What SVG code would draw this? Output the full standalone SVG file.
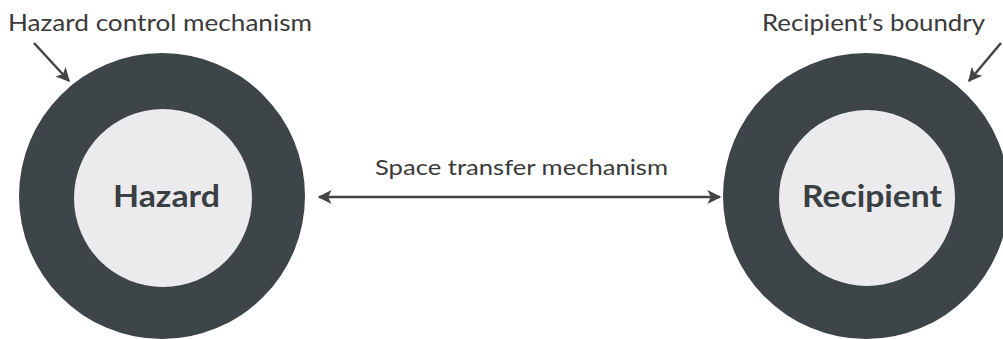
<svg xmlns="http://www.w3.org/2000/svg" width="1003" height="339" viewBox="0 0 1003 339">
<style>
.outer{fill:#3e4549}
.inner{fill:#ebebed}
.lbl{font-family:Lato,"Liberation Sans",sans-serif;fill:#3a3a3a;font-size:23px}
.node{font-family:Lato,"Liberation Sans",sans-serif;fill:#3a3f44;font-size:31px;font-weight:bold}
.conn{stroke:#444;stroke-width:2.5;fill:none}
</style>
<defs>
<marker id="ah2" viewBox="0 0 10 10" refX="9" refY="5" markerWidth="16" markerHeight="14" orient="auto-start-reverse" markerUnits="userSpaceOnUse">
<path d="M0,0 L10,5 L0,10 L2.5,5 Z" fill="#444"/>
</marker>
</defs>
<rect width="1003" height="339" fill="#ffffff"/>
<g id="hazard">
<circle class="outer" cx="162" cy="196" r="143"/>
<circle class="inner" cx="163" cy="198" r="89"/>
<text class="node" x="113" y="207" textLength="107" lengthAdjust="spacingAndGlyphs">Hazard</text>
</g>
<g id="recipient">
<circle class="outer" cx="866" cy="196" r="143"/>
<circle class="inner" cx="867" cy="198" r="88"/>
<text class="node" x="802" y="207" textLength="140" lengthAdjust="spacingAndGlyphs">Recipient</text>
</g>
<g id="labels">
<text class="lbl" x="8" y="31" textLength="304" lengthAdjust="spacingAndGlyphs">Hazard control mechanism</text>
<text class="lbl" x="762" y="31" textLength="223" lengthAdjust="spacingAndGlyphs">Recipient’s boundry</text>
<text class="lbl" x="375" y="175" textLength="293" lengthAdjust="spacingAndGlyphs" style="font-size:22px">Space transfer mechanism</text>
</g>
<g id="connectors">
<line class="conn" x1="319" y1="197" x2="720" y2="197" marker-start="url(#ah2)" marker-end="url(#ah2)"/>
<line class="conn" x1="34" y1="43" x2="69" y2="81" marker-end="url(#ah2)"/>
<line class="conn" x1="1001" y1="43" x2="969" y2="81" marker-end="url(#ah2)"/>
</g>
</svg>
